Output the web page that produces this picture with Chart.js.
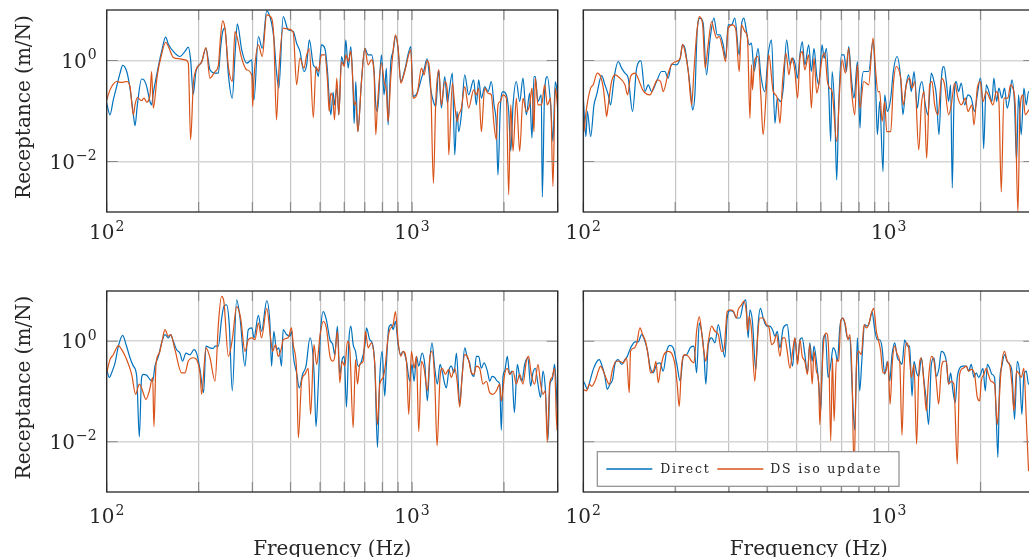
<!DOCTYPE html>
<html>
<head>
<meta charset="utf-8">
<script src="https://cdn.jsdelivr.net/npm/chart.js@4.4.0/dist/chart.umd.min.js"></script>
<style>
  html, body { margin: 0; padding: 0; background: #fff; width: 1029px; height: 557px; overflow: hidden; }
  canvas { position: absolute; }
</style>
</head>
<body>
<canvas id="tl" width="575" height="280" style="left:0;top:0"></canvas>
<canvas id="tr" width="520" height="280" style="left:530px;top:0"></canvas>
<canvas id="bl" width="575" height="277" style="left:0;top:280px"></canvas>
<canvas id="br" width="520" height="277" style="left:530px;top:280px"></canvas>
<script>
// grille et graduations
const X_GRID = [100, 200, 300, 400, 500, 600, 700, 800, 900, 1000, 2000, 3000];
const Y_GRID = [0.01, 1];
const X_LABELS = [[100, '2'], [1000, '3']];
const Y_LABELS = [[1, '0'], [0.01, '\u22122']];
const SERIES_NAMES = ['Direct', 'DS iso update'];

// ── haut gauche ──
const tlHz = [100, 102.5, 105.1, 107.8, 110.6, 112.8, 116.3, 119.2, 122.3, 123.8, 126, 130.1, 132.4, 135.2, 138.6, 140.3, 142.1, 146.5, 151.3, 156,
  159.2, 165.3, 173.8, 180.4, 185, 188.3, 192.1, 196, 204.6, 211.4, 217.9, 226.4, 232.1, 236, 239.8, 243.9, 250.3, 257.8, 263.2, 267.8,
  276.8, 287.6, 298.8, 300.6, 303.6, 313.9, 323.1, 334.3, 346.7, 352.7, 359.8, 366.2, 378.4, 392.9, 408.3, 418.8, 429.5, 442.6, 451.8, 461,
  475, 484.8, 493.2, 505.1,
  518, 528.7, 535.4, 542.2, 551.7, 557.3, 567.1, 575.8, 587.5, 599.4, 607, 617.8, 630.3, 641.5, 646.3, 654.5, 664.4, 683, 700.4, 718.2,
  736.4, 751.4, 760.8, 770.5, 793.9, 810, 824.3, 834.8, 851.7, 867, 882.4, 900.3, 918.6, 946.7, 990.6, 1008, 1041, 1074, 1095, 1120,
  1152, 1175, 1196, 1223, 1248, 1280, 1306, 1319, 1356, 1380, 1404, 1422, 1451, 1488, 1533, 1592, 1624, 1653, 1687, 1730,
  1774, 1819, 1856, 1889, 1912, 1946, 1986, 2037, 2073, 2105, 2142, 2196, 2252, 2309, 2368, 2428, 2471, 2508, 2534, 2585,
  2651, 2671, 2718, 2774, 2844, 2894, 2946, 3006];
const tlDirect = [0.143, 0.084, 0.166, 0.305, 0.561, 0.8, 0.605, 0.283, 0.084, 0.051, 0.132, 0.43, 0.414, 0.305, 0.154, 0.132, 0.225, 0.605, 1.51, 2.9,
  2.1, 1.51, 1.2, 1.51, 1.84, 1.03, 0.215, 0.605, 0.93, 1.75, 0.653, 0.561, 0.561, 1.75, 3.75, 4.37, 0.52, 0.18, 1.29, 5.3,
  1.63, 0.885, 1.03, 0.384, 0.166, 2.99, 1.75, 9.6, 5.5, 2.77, 0.605, 0.283, 7.4, 4.05, 3.75, 2.2, 1.51, 0.605, 0.82, 2.56,
  0.82, 0.705, 0.482, 2.04,
  1.75, 0.605, 0.18, 0.084, 0.235, 0.132, 0.283, 0.084, 1.2, 0.82, 2.56, 0.705, 1.89, 0.243, 0.057, 0.384, 0.039, 0.384, 1.75, 1.29,
  1.29, 0.605, 0.132, 0.098, 1.29, 0.209, 0.705, 0.053, 0.885, 1.51, 2.99, 1.75, 0.384, 0.653, 1.89, 0.194, 0.235, 0.447, 0.653, 1.08,
  0.262, 0.154, 0.123, 0.653, 0.114, 0.482, 0.143, 0.209, 0.561, 0.0135, 0.098, 0.039, 0.084, 0.52, 0.209, 0.414, 0.132, 0.414, 0.18, 0.305,
  0.243, 0.384, 0.132, 0.053, 0.0054, 0.114, 0.243, 0.209, 0.098, 0.016, 0.132, 0.384, 0.154, 0.447, 0.084, 0.225, 0.029, 0.482, 0.482, 0.154,
  0.209, 0.002, 0.243, 0.482, 0.132, 0.025, 0.384, 0.18];
const tlIso = [0.166, 0.262, 0.34, 0.384, 0.37, 0.37, 0.384, 0.305, 0.084, 0.132, 0.185, 0.16, 0.18, 0.15, 0.209, 0.605, 0.114, 0.52, 1.33, 2.3,
  1.89, 1.15, 1.08, 1.03, 0.885, 0.027, 0.33, 0.653, 0.93, 1.8, 0.447, 0.605, 0.8, 2.99, 6.1, 4.37, 0.76, 0.384, 3.75, 2.77,
  1.11, 0.653, 0.5, 0.123, 0.447, 2.04, 1.2, 8, 6.9, 2.85, 0.067, 0.605, 4.37, 4.2, 3.6, 0.33, 1.11, 0.705, 1.29, 1.7,
  0.074, 0.76, 0.605, 1.29,
  1.29, 0.384, 0.098, 0.225, 0.154, 0.067, 0.447, 0.084, 0.955, 0.76, 1.29, 0.955, 1.51, 0.283, 0.132, 0.154, 0.039, 0.384, 1.75, 0.82,
  1.03, 0.52, 0.034, 0.132, 0.885, 0.384, 0.243, 0.062, 0.447, 1.51, 3.22, 1.75, 0.356, 0.605, 1.63, 0.18, 0.225, 0.705, 0.52, 1,
  0.283, 0.0037, 0.154, 0.653, 0.132, 0.384, 0.243, 0.0135, 0.356, 0.132, 0.062, 0.084, 0.114, 0.305, 0.114, 0.262, 0.209, 0.283, 0.039, 0.283,
  0.225, 0.209, 0.053, 0.027, 0.132, 0.154, 0.209, 0.18, 0.0022, 0.132, 0.016, 0.18, 0.016, 0.18, 0.098, 0.132, 0.283, 0.039, 0.447, 0.132,
  0.132, 0.154, 0.33, 0.132, 0.18, 0.0032, 0.283, 0.098];

// ── haut droite ──
const trDirectHz = [100, 102, 103.1, 105.7, 108.4, 110.6, 114.8, 117.7, 120.7, 122.9, 125.4, 126.9, 130.1, 133.5, 136.9, 140.3, 145, 149.5, 154.4, 159.2,
  163.2, 167.3, 173.8, 180.4, 185, 189.7, 194.5, 201.5, 207.7, 211.4, 215.2, 220.7, 224.6, 228, 232.1, 236, 240.8, 246.9, 253.2, 259.6,
  267.8, 274.6, 280.1, 287.3, 292.4, 298.3, 305.9, 313.6, 324, 329.7, 335.6, 342.4, 349.3, 355.5, 362.6, 373.7, 381.3, 393, 403, 413.5,
  424.3, 431.9, 442.6, 451.8, 463.3, 475, 484.8, 493.2,
  503.3, 512.2, 521.3, 531.5, 547.2, 558.4, 569.7, 581.5, 590.3, 605.4, 614.6, 625.5, 636.7, 646.3, 652.9, 666.1, 676.1, 686.4, 700.4, 714.6,
  727.2, 740.1, 755.1, 770.5, 790, 806, 814.1, 828.5, 843.1, 860.3, 889, 907.1, 918.6, 934.9, 958.7, 970.7, 990.6, 1016, 1036, 1065,
  1095, 1114, 1137, 1163, 1187, 1211, 1242, 1264, 1286, 1319, 1345, 1380, 1408, 1433, 1462, 1492, 1518, 1545, 1572, 1596,
  1616, 1636, 1665, 1694, 1730, 1774, 1819, 1865, 1912, 1952, 1996, 2026, 2047, 2088, 2130, 2179, 2212, 2257, 2297, 2349,
  2397, 2445, 2489, 2534, 2585, 2624, 2664, 2718, 2774, 2823, 2873, 3000];
const trDirect = [0.18, 0.031, 0.098, 0.031, 0.132, 0.209, 0.5, 0.33, 0.209, 0.132, 0.33, 0.561, 0.955, 0.705, 0.561, 0.447, 0.098, 0.705, 0.98, 0.243,
  0.33, 0.243, 0.384, 0.605, 0.605, 0.447, 0.845, 0.82, 1.11, 2.04, 1.75, 0.605, 0.243, 0.105, 0.225, 3.75, 6.9, 5.5, 0.52, 2.38,
  6.9, 3.22, 3.22, 2.04, 1.11, 5.08, 5.08, 6.9, 1.29, 5.08, 6.9, 3.75, 2.04, 2.2, 0.605, 1.75, 0.52, 0.243, 1.29, 2.56,
  0.057, 0.18, 0.154, 0.283, 2.56, 0.82, 1.11, 0.885,
  0.447, 1.29, 2.38, 0.82, 2.04, 0.605, 1.75, 0.5, 0.33, 2.04, 1.11, 1.75, 0.243, 0.025, 0.605, 0.098, 0.0043, 0.132, 1.29, 1.29,
  0.605, 1.89, 0.447, 0.18, 0.955, 0.046, 0.283, 0.605, 0.605, 0.605, 2.38, 0.283, 0.034, 0.154, 0.0063, 0.209, 0.098, 0.18, 0.605, 1.2,
  0.447, 0.084, 0.283, 0.52, 0.243, 0.605, 0.114, 0.283, 0.384, 0.132, 0.084, 0.561, 0.384, 0.209, 0.034, 0.52, 0.76, 0.384, 0.154, 0.33,
  0.003, 0.132, 0.384, 0.243, 0.356, 0.132, 0.209, 0.18, 0.098, 0.209, 0.447, 0.18, 0.018, 0.33, 0.243, 0.154, 0.447, 0.154, 0.283, 0.18,
  0.283, 0.114, 0.18, 0.414, 0.132, 0.01, 0.209, 0.034, 0.283, 0.132, 0.243, 0.2];
const trIsoHz = [100.5, 102.5, 105.7, 107.8, 111.1, 113.9, 116.3, 118.6, 119.2, 120.7, 123.8, 126.9, 131.8, 136.9, 139.7, 142.8, 147.7, 154, 156.4, 165.3,
  170.4, 174.7, 179.1, 182.7, 189.7, 194.5, 201.5, 207.7, 211.4, 215.2, 220.7, 226.4, 230.3, 235, 239.8, 245.7, 250.7, 256.4, 263.2, 267.8,
  273.3, 278.6, 285.8, 292.4, 298.3, 308.2, 315.9, 324, 329.7, 338.1, 344.9, 351.4, 355.5, 358, 364.4, 373.7, 381.3, 388.1, 398, 405.1,
  418.8, 431.9, 440.5, 449.5, 461, 471.5, 481, 489.6,
  493.2, 503.3, 512.2, 521.3, 531.5, 547.2, 558.4, 569.7, 581.5, 590.3, 605.4, 617.8, 630.3, 641.5, 652.9, 676.1, 691.8, 703.9, 721.8, 740.1,
  755.1, 774.5, 790, 806, 828.5, 860.3, 889, 907.1, 922.7, 934.9, 952.1, 970.7, 985.6, 1016, 1036, 1060, 1095, 1117, 1143, 1172,
  1193, 1218, 1255, 1280, 1306, 1332, 1363, 1387, 1415, 1451, 1492, 1525, 1572, 1604, 1645, 1687, 1730, 1783, 1819, 1875,
  1903, 1952, 1996, 2037, 2088, 2142, 2196, 2252, 2297, 2338, 2385, 2458, 2508, 2552, 2598, 2651, 2692, 2753, 2802, 2860, 3000];
const trIso = [0.039, 0.114, 0.283, 0.33, 0.561, 0.482, 0.283, 0.098, 0.078, 0.132, 0.384, 0.52, 0.447, 0.33, 0.209, 0.482, 0.561, 0.33, 0.262, 0.209,
  0.305, 0.414, 0.384, 0.243, 0.561, 0.82, 0.955, 1.11, 2.1, 1.51, 0.605, 0.132, 0.605, 3.22, 7.4, 5.5, 0.705, 2.04, 5.92, 4.05,
  2.77, 2.99, 1.75, 0.955, 4.37, 5.08, 4.05, 0.605, 5.08, 3.75, 2.77, 0.072, 0.82, 0.262, 1.03, 1.2, 0.209, 0.034, 0.283, 1.29,
  0.243, 0.18, 0.057, 0.384, 1.4, 0.52, 1.11, 0.82,
  0.605, 0.18, 1.11, 1.51, 0.653, 1.29, 0.114, 1.11, 0.225, 0.33, 1.11, 1.4, 0.384, 0.283, 0.243, 0.025, 0.283, 1.03, 0.561, 1.75,
  0.283, 0.084, 0.82, 0.114, 0.384, 0.33, 2.77, 0.605, 0.243, 0.243, 0.062, 0.154, 0.039, 0.039, 0.33, 0.76, 0.447, 0.132, 0.33, 0.447,
  0.283, 0.384, 0.017, 0.132, 0.243, 0.0116, 0.33, 0.384, 0.132, 0.084, 0.447, 0.33, 0.084, 0.132, 0.356, 0.18, 0.132, 0.18, 0.098, 0.132,
  0.053, 0.283, 0.384, 0.154, 0.243, 0.18, 0.132, 0.243, 0.154, 0.0025, 0.18, 0.18, 0.33, 0.283, 0.132, 0.001, 0.098, 0.209, 0.084, 0.098, 0.15];

// ── bas gauche ──
const blDirectHz = [100, 102, 103.8, 106.5, 109.2, 112.8, 115.7, 119.2, 122.3, 125.4, 127.9, 130.1, 131.8, 135.2, 138.6, 141.4, 143.9, 147.7, 151.3, 155.2,
  159.2, 162, 165.3, 169.4, 173.8, 177.2, 181.8, 187.4, 193.1, 197, 202.1, 207.7, 211.4, 217.9, 223.4, 226.4, 232.1, 237.7, 241.9, 246.9,
  252, 257.8, 266.5, 273.3, 283.7, 290.9, 298.8, 303.6, 313.9, 321.5, 334.3, 342.4, 346.7, 352.7, 359.8, 366.2, 373.7, 378.4, 388.1, 398,
  404.1, 408.3, 418.8, 427.3, 438.2, 449.5, 463.3, 477.4, 484.8, 493.2, 502.1, 512.2, 524, 538.6, 550,
  558.4, 569.7, 580.1, 590.3, 599.4, 610, 620.9, 630.3, 641.5, 652.9, 666.1, 683, 700.4, 709.5, 727.2, 740.1, 755.1, 770.5, 784.1, 797.9,
  814.1, 824.3, 838.9, 856, 867, 882.4, 900.3, 918.6, 934.9, 958.7, 983.1, 1000, 1016, 1034, 1052, 1079, 1101, 1123, 1143, 1163,
  1187, 1211, 1235, 1255, 1280, 1296, 1319, 1345, 1373, 1398, 1433, 1458, 1488, 1518, 1545, 1565, 1596, 1624, 1653, 1687,
  1721, 1765, 1797, 1828, 1865, 1903, 1937, 1961, 1986, 2011, 2052, 2088, 2121, 2164, 2212, 2252, 2291, 2338, 2397, 2445,
  2489, 2534, 2585, 2638, 2685, 2732, 2788, 2830, 2880, 2931, 2967, 3006];
const blDirect = [0.275, 0.19, 0.235, 0.37, 0.8, 1.31, 0.86, 0.47, 0.32, 0.2, 0.0125, 0.19, 0.22, 0.21, 0.173, 0.16, 0.32, 0.5, 0.93, 1.36,
  1.17, 1.36, 1, 0.68, 0.58, 0.4, 0.58, 0.54, 0.68, 0.58, 0.275, 0.095, 0.8, 0.74, 0.72, 0.8, 0.8, 2.7, 4.9, 5.3,
  2.14, 0.103, 6.7, 2.9, 0.32, 1.7, 1.84, 1.17, 3.27, 1.58, 6.38, 2.3, 0.32, 1.58, 0.68, 0.74, 0.32, 1.7, 1.36, 1.26,
  1.58, 0.54, 0.235, 0.118, 0.22, 0.32, 1.17, 0.255, 0.02, 0.14, 1.7, 3.9, 2.7, 1.07, 0.86,
  0.54, 2, 0.22, 0.43, 0.5, 0.049, 1, 2, 0.86, 0.63, 0.32, 0.4, 0.8, 1.84, 1.07, 0.93, 0.345, 0.0077, 0.19, 0.63,
  0.081, 0.345, 1.84, 2.14, 1.7, 2.5, 0.86, 0.54, 0.63, 0.4, 0.16, 0.345, 0.16, 0.5, 0.32, 0.58, 0.345, 0.065, 0.4, 0.93,
  0.29, 0.14, 0.345, 0.255, 0.14, 0.118, 0.255, 0.32, 0.235, 0.58, 0.056, 0.19, 0.74, 0.47, 0.37, 0.235, 0.2, 0.5, 0.5, 0.29,
  0.37, 0.255, 0.16, 0.2, 0.19, 0.16, 0.14, 0.017, 0.2, 0.255, 0.5, 0.22, 0.255, 0.038, 0.345, 0.2, 0.16, 0.345, 0.47, 0.128,
  0.235, 0.29, 0.14, 0.076, 0.255, 0.118, 0.011, 0.14, 0.173, 0.345, 0.118, 0.015];
const blIsoHz = [100, 102.5, 105.1, 109.2, 112, 116.3, 120.7, 124.4, 127.9, 130.1, 134.5, 137.9, 141.4, 142.8, 145, 148.7, 152.1, 155.2, 159.2, 162,
  167.3, 176, 180.4, 185, 192.1, 202.1, 204.6, 211.4, 217.9, 226.4, 232.1, 237.7, 241.9, 250.3, 257.8, 266.5, 274.6, 283.7, 290.9, 298.8,
  305.9, 313.9, 321.5, 334.3, 344.1, 349.3, 357.3, 364.4, 373.7, 378.4, 392.9, 403, 408.3, 418.8, 424.3, 434.9, 445.9, 457, 465.5, 477.4,
  487, 500, 512.2, 524, 538.6, 550,
  558.4, 569.7, 580.1, 590.3, 602.6, 614.6, 625.5, 641.5, 652.9, 662.8, 674.5, 691.8, 703.9, 718.2, 736.4, 755.1, 770.5, 784.1, 804, 818.2,
  830.6, 845.5, 867, 882.4, 900.3, 918.6, 934.9, 958.7, 975.6, 995.5, 1016, 1034, 1052, 1074, 1095, 1123, 1143, 1163, 1187, 1208,
  1235, 1255, 1286, 1319, 1345, 1380, 1405, 1433, 1458, 1488, 1525, 1565, 1596, 1624, 1665, 1708, 1752, 1797, 1842, 1889,
  1937, 1961, 2011, 2052, 2088, 2142, 2196, 2252, 2309, 2368, 2409, 2458, 2521, 2585, 2638, 2685, 2732, 2774, 2823, 2873,
  2931, 2983, 3006];
const blIso = [0.235, 0.43, 0.54, 0.82, 0.68, 0.43, 0.22, 0.088, 0.14, 0.118, 0.07, 0.103, 0.19, 0.02, 0.345, 0.58, 1.07, 1.7, 1.26, 1.36,
  0.68, 0.235, 0.235, 0.4, 0.47, 0.235, 0.088, 0.74, 0.47, 0.16, 2.14, 7.8, 6.2, 0.5, 1.07, 4.9, 2.9, 0.63, 1.07, 1.17,
  1.07, 2.3, 1.17, 4.5, 1.17, 0.63, 0.86, 0.5, 0.74, 1.07, 1.17, 1.84, 0.86, 0.255, 0.012, 0.16, 0.22, 0.29, 0.035, 0.86,
  0.345, 1.36, 2.5, 1.84, 0.5, 0.4,
  0.5, 1.58, 0.15, 0.4, 0.32, 1, 0.68, 0.019, 0.43, 0.14, 0.345, 0.4, 1.58, 0.74, 0.93, 0.345, 0.022, 0.14, 0.19, 0.345,
  0.93, 1.7, 2.14, 3.9, 1, 0.5, 0.63, 0.4, 0.035, 0.63, 0.29, 0.5, 0.016, 0.4, 0.29, 0.103, 0.47, 0.63, 0.16, 0.0083,
  0.19, 0.29, 0.22, 0.275, 0.19, 0.29, 0.16, 0.049, 0.19, 0.54, 0.47, 0.235, 0.22, 0.32, 0.29, 0.14, 0.16, 0.095, 0.088, 0.103,
  0.14, 0.065, 0.22, 0.29, 0.22, 0.255, 0.14, 0.22, 0.14, 0.4, 0.5, 0.22, 0.14, 0.345, 0.14, 0.088, 0.103, 0.0097, 0.14, 0.19,
  0.29, 0.017, 0.14];

// ── bas droite ──
const brDirectHz = [100, 101.3, 103.1, 105.1, 107.8, 110.6, 112.8, 114.8, 117.7, 119.8, 122.3, 124.7, 126.9, 130.1, 133.5, 136.9, 139.3, 141.4, 143.9, 147.7,
  151.3, 155.2, 159.2, 162, 165.3, 169.4, 173.8, 178.2, 182.7, 187.4, 192.1, 197, 202.1, 207.7, 212.5, 217.9, 224.6, 230.3, 235, 239.8,
  243.9, 248.2, 252, 256.4, 263.2, 269.8, 276.8, 283.7, 290.9, 296.1, 302.1, 309.6, 317.6, 325.7, 334.3, 340.7, 346.7, 351.4, 358, 367.2,
  373.7, 380.4, 388.1, 398, 408.3, 416.6, 424.3, 431.9, 440.5, 451.8, 465.5, 475, 484.8, 493.2,
  503.3, 512.2, 521.3, 531.5, 542.2, 551.7, 561.9, 569.7, 580.1, 590.3, 599.4, 610, 620.9, 633.5, 646.3, 657.9, 669.5, 679.6, 691.8, 703.9,
  718.2, 732.8, 746.9, 758.6, 774.5, 790, 804, 818.2, 834.8, 851.7, 867, 882.4, 900.3, 918.6, 934.9, 952.1, 970.7, 990.6, 1008, 1026,
  1047, 1068, 1088, 1106, 1129, 1152, 1172, 1193, 1211, 1235, 1255, 1280, 1306, 1329, 1352, 1380, 1408, 1433, 1462, 1488,
  1518, 1545, 1572, 1596, 1624, 1653, 1678, 1708, 1752, 1797, 1828, 1865, 1903, 1937, 1971, 2000, 2037, 2073, 2105, 2142,
  2179, 2223, 2252, 2280, 2309, 2349, 2397, 2445, 2489, 2534, 2585, 2638, 2685, 2732, 2774, 2823, 2873, 3000];
const brDirect = [0.16, 0.14, 0.11, 0.16, 0.275, 0.39, 0.43, 0.345, 0.2, 0.11, 0.14, 0.173, 0.345, 0.43, 0.345, 0.43, 0.5, 0.63, 0.8, 0.97,
  0.97, 1.36, 1, 0.68, 0.32, 0.235, 0.345, 0.37, 0.255, 0.63, 0.83, 0.74, 0.37, 0.16, 0.5, 0.54, 0.76, 0.8, 0.235, 2.3,
  1.58, 0.63, 0.14, 0.8, 1.17, 0.93, 2.14, 1, 0.48, 2.9, 4.05, 3.9, 2.9, 2.9, 5.7, 6.7, 1.17, 4.2, 2.5, 0.275,
  2.14, 4.5, 2.9, 2, 2, 1.7, 1.26, 1.58, 0.74, 1.84, 2.14, 0.74, 0.32, 1.17,
  0.4, 1.07, 1.17, 0.54, 0.235, 0.93, 0.4, 0.8, 0.4, 0.14, 0.041, 1.07, 1.36, 0.19, 0.345, 0.74, 0.63, 0.4, 1.84, 2.9,
  2.3, 1.17, 1.17, 0.14, 0.017, 1.17, 0.103, 0.47, 2.14, 2, 2.5, 3.9, 1.7, 1.07, 1.07, 0.74, 0.22, 0.4, 0.16, 0.54,
  0.93, 0.47, 0.4, 0.345, 1.07, 0.8, 0.8, 0.081, 0.4, 0.235, 0.2, 0.47, 0.16, 0.065, 0.022, 0.345, 0.47, 0.2, 0.29, 0.63,
  0.58, 0.4, 0.14, 0.235, 0.103, 0.06, 0.19, 0.29, 0.32, 0.32, 0.255, 0.345, 0.19, 0.235, 0.19, 0.22, 0.29, 0.103, 0.345, 0.29,
  0.22, 0.19, 0.03, 0.0049, 0.14, 0.32, 0.54, 0.4, 0.345, 0.255, 0.028, 0.4, 0.235, 0.035, 0.22, 0.255, 0.14, 0.2];
const brIsoHz = [100, 102.5, 104.6, 106.5, 109.2, 112, 113.9, 116.3, 119.2, 121.6, 124.7, 127.9, 131.2, 135.2, 138.6, 141.4, 142.8, 145.8, 149.5, 153.3,
  156.4, 160.3, 163.2, 166.1, 170.4, 172.9, 176, 179.1, 183.7, 189.7, 194.5, 199.5, 203, 206.1, 209.8, 215.2, 220.7, 226.4, 230.3, 235,
  239.8, 243.9, 248.2, 252, 256.4, 263.2, 269.8, 276.8, 283.7, 288.7, 296.1, 302.1, 309.6, 317.6, 321.5, 329.7, 335.6, 342.4, 344.9, 349.3,
  355.5, 364.4, 370.9, 378.4, 388.1, 398, 406.1, 413.5, 421, 429.5, 440.5, 449.5, 457, 465.5, 475, 484.8, 493.2,
  503.3, 512.2, 521.3, 531.5, 542.2, 551.7, 561.9, 569.7, 580.1, 590.3, 595.2, 602.6, 614.6, 625.5, 636.7, 646.3, 654.6, 662.8, 674.5, 686.4,
  696.9, 709.5, 721.8, 736.4, 746.9, 758.6, 770.5, 784.1, 797.9, 814.1, 830.6, 845.5, 860.3, 878, 893.5, 911.7, 927.9, 941.9, 958.7, 975.6,
  995.5, 1011, 1029, 1047, 1068, 1088, 1106, 1123, 1143, 1163, 1187, 1211, 1235, 1255, 1280, 1306, 1329, 1352, 1380, 1408,
  1433, 1458, 1488, 1518, 1545, 1572, 1604, 1636, 1678, 1708, 1752, 1797, 1828, 1865, 1912, 1952, 1986, 2011, 2052, 2088,
  2121, 2164, 2223, 2268, 2291, 2338, 2397, 2445, 2489, 2534, 2572, 2624, 2664, 2718, 2774, 2823, 2873];
const brIso = [0.11, 0.103, 0.14, 0.128, 0.16, 0.255, 0.32, 0.255, 0.173, 0.14, 0.275, 0.4, 0.4, 0.37, 0.47, 0.095, 0.63, 0.72, 0.885, 1.84,
  1.36, 0.93, 0.5, 0.235, 0.275, 0.4, 0.15, 0.29, 0.54, 0.63, 0.58, 0.345, 0.14, 0.05, 0.32, 0.54, 0.5, 0.4, 0.37, 1.58,
  3.1, 1.58, 0.63, 0.4, 0.93, 2, 1.58, 1.36, 0.63, 0.68, 3.9, 4.2, 4.05, 2.9, 4.2, 5.3, 6.2, 3.4, 1.58, 3.1,
  1.7, 0.16, 0.86, 2.9, 2.9, 2.14, 1.84, 0.86, 0.93, 1.36, 0.5, 1.17, 1.17, 0.63, 0.29, 0.63, 1.17,
  0.345, 1.07, 0.5, 0.4, 0.22, 0.86, 0.14, 0.63, 0.255, 0.14, 0.022, 0.14, 1.17, 1.45, 0.58, 0.0105, 0.47, 0.026, 0.43, 0.4,
  2.5, 2.9, 2.14, 1.07, 1.36, 0.22, 0.0026, 0.29, 0.63, 0.54, 2.14, 1.84, 2.14, 3.6, 4.5, 1.58, 1, 0.63, 0.235, 0.235,
  0.4, 0.056, 0.4, 0.8, 0.54, 0.37, 0.0135, 0.275, 0.93, 0.74, 0.19, 0.345, 0.009, 0.22, 0.47, 0.14, 0.041, 0.19, 0.5, 0.4,
  0.16, 0.056, 0.29, 0.4, 0.4, 0.14, 0.16, 0.14, 0.0036, 0.22, 0.29, 0.32, 0.255, 0.275, 0.22, 0.076, 0.065, 0.16, 0.22, 0.29,
  0.22, 0.16, 0.14, 0.022, 0.041, 0.29, 0.63, 0.4, 0.345, 0.14, 0.041, 0.255, 0.235, 0.19, 0.29, 0.03, 0.0026];

const BLUE = '#0072BD';
const ORANGE = '#D95319';
const INK = '#262626';
const SERIF = '"DejaVu Serif", serif';

// position des quatre graphes : zone de tracé via le padding
const PANELS = [
  { id: 'tl', series: [[tlHz, tlDirect], [tlHz, tlIso]], pad: { left: 106.7, right: 17.3, top: 10, bottom: 68 }, yLabels: true, xTitle: false, tickBase: 239 },
  { id: 'tr', series: [[trDirectHz, trDirect], [trIsoHz, trIso]], pad: { left: 53.3, right: 15.7, top: 10, bottom: 68 }, yLabels: false, xTitle: false, tickBase: 239 },
  { id: 'bl', series: [[blDirectHz, blDirect], [blIsoHz, blIso]], pad: { left: 106.7, right: 17.3, top: 11, bottom: 65 }, yLabels: true, xTitle: true, tickBase: 243 },
  { id: 'br', series: [[brDirectHz, brDirect], [brIsoHz, brIso]], pad: { left: 53.3, right: 15.7, top: 11, bottom: 65 }, yLabels: false, xTitle: true, tickBase: 243, legend: true },
];

function pairs(hz, vals) {
  return hz.map((f, i) => ({ x: f, y: vals[i] }));
}

// "10" + exposant
function drawPow(ctx, exp, x, base, align) {
  ctx.font = '20px ' + SERIF;
  const w1 = ctx.measureText('10').width;
  ctx.font = '14px ' + SERIF;
  const w2 = ctx.measureText(exp).width;
  const w = w1 + 1 + w2;
  const x0 = align === 'right' ? x - w : x - w / 2;
  ctx.textAlign = 'left';
  ctx.textBaseline = 'alphabetic';
  ctx.font = '20px ' + SERIF;
  ctx.fillText('10', x0, base);
  ctx.font = '14px ' + SERIF;
  ctx.fillText(exp, x0 + w1 + 1, base - 8.5);
}

const decor = {
  id: 'decor',
  afterDatasetsDraw(chart, args, o) {
    const { ctx, chartArea: a, scales: { x, y } } = chart;
    ctx.save();
    // petites graduations intérieures
    ctx.strokeStyle = '#8a8a8a';
    ctx.lineWidth = 1.2;
    ctx.beginPath();
    X_GRID.forEach(v => {
      const px = x.getPixelForValue(v);
      ctx.moveTo(px, a.bottom); ctx.lineTo(px, a.bottom - 10);
      ctx.moveTo(px, a.top); ctx.lineTo(px, a.top + 10);
    });
    Y_GRID.forEach(v => {
      const py = y.getPixelForValue(v);
      ctx.moveTo(a.left, py); ctx.lineTo(a.left + 11, py);
      ctx.moveTo(a.right, py); ctx.lineTo(a.right - 11, py);
    });
    ctx.stroke();
    // cadre
    ctx.strokeStyle = INK;
    ctx.lineWidth = 1.3;
    ctx.strokeRect(a.left, a.top, a.right - a.left, a.bottom - a.top);

    ctx.fillStyle = INK;
    X_LABELS.forEach(([v, e]) => drawPow(ctx, e, x.getPixelForValue(v), o.tickBase, 'center'));
    if (o.yLabels) {
      Y_LABELS.forEach(([v, e]) => drawPow(ctx, e, a.left - 10, y.getPixelForValue(v) + 7, 'right'));
      ctx.save();
      ctx.translate(30, (a.top + a.bottom) / 2 - 4);
      ctx.rotate(-Math.PI / 2);
      ctx.font = '20px ' + SERIF;
      ctx.textAlign = 'center';
      ctx.fillText('Receptance (m/N)', 0, 0);
      ctx.restore();
    }
    if (o.xTitle) {
      ctx.font = '20px ' + SERIF;
      ctx.textAlign = 'center';
      ctx.fillText('Frequency (Hz)', (a.left + a.right) / 2, 275);
    }
    if (o.legend) {
      const bx = a.left + 14, by = a.bottom - 40.3, bw = 301.7, bh = 34.6;
      ctx.fillStyle = '#fff';
      ctx.fillRect(bx, by, bw, bh);
      ctx.strokeStyle = '#8c8c8c';
      ctx.lineWidth = 1.2;
      ctx.strokeRect(bx, by, bw, bh);
      const my = by + bh / 2;
      ctx.lineWidth = 1.3;
      ctx.strokeStyle = BLUE;
      ctx.beginPath(); ctx.moveTo(bx + 9, my); ctx.lineTo(bx + 55, my); ctx.stroke();
      ctx.strokeStyle = ORANGE;
      ctx.beginPath(); ctx.moveTo(bx + 120, my); ctx.lineTo(bx + 166, my); ctx.stroke();
      ctx.fillStyle = INK;
      ctx.font = '12.5px ' + SERIF;
      ctx.letterSpacing = '1.8px';
      ctx.textAlign = 'left';
      ctx.fillText(SERIES_NAMES[0], bx + 63, my + 3.6);
      ctx.fillText(SERIES_NAMES[1], bx + 173, my + 3.6);
    }
    ctx.restore();
  }
};

PANELS.forEach(p => {
  new Chart(document.getElementById(p.id), {
    type: 'line',
    data: {
      datasets: [
        { label: SERIES_NAMES[0], data: pairs(...p.series[0]), borderColor: BLUE, order: 1 },
        { label: SERIES_NAMES[1], data: pairs(...p.series[1]), borderColor: ORANGE, order: 0 },
      ],
    },
    options: {
      responsive: false, animation: false, events: [],
      layout: { padding: p.pad },
      elements: { point: { radius: 0 }, line: { borderWidth: 1.2, cubicInterpolationMode: 'monotone' } },
      plugins: {
        legend: { display: false }, tooltip: { enabled: false },
        decor: { tickBase: p.tickBase, yLabels: p.yLabels, xTitle: p.xTitle, legend: p.legend },
      },
      scales: {
        x: {
          type: 'logarithmic', min: 100, max: 3000,
          afterBuildTicks: s => { s.ticks = X_GRID.map(v => ({ value: v })); },
          afterFit: s => { s.height = 0; },
          ticks: { display: false },
          grid: { color: '#c4c4c4', lineWidth: 1.2, drawTicks: false },
          border: { display: false },
        },
        y: {
          type: 'logarithmic', min: 0.001, max: 10,
          afterBuildTicks: s => { s.ticks = Y_GRID.map(v => ({ value: v })); },
          afterFit: s => { s.width = 0; },
          ticks: { display: false },
          grid: { color: '#d6d6d6', lineWidth: 1.6, drawTicks: false },
          border: { display: false },
        },
      },
    },
    plugins: [decor],
  });
});
</script>
</body>
</html>
